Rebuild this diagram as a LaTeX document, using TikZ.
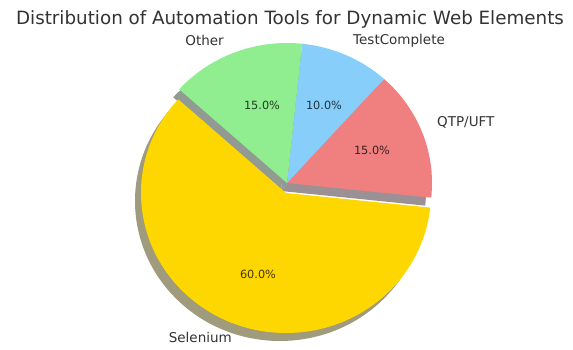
\documentclass[tikz,border=0pt]{standalone}
\usepackage{fontspec}
\setmainfont{DejaVu Sans}
\definecolor{selc}{RGB}{255,215,0}
\definecolor{qtpc}{RGB}{240,128,128}
\definecolor{tcc}{RGB}{135,206,250}
\definecolor{othc}{RGB}{144,238,144}
\definecolor{selsh}{RGB}{160,155,125}
\definecolor{qtpsh}{RGB}{155,145,148}
\definecolor{tcsh}{RGB}{145,152,160}
\definecolor{othsh}{RGB}{145,155,145}
\definecolor{txt}{RGB}{51,51,51}
\tikzset{
  lbl/.style={inner sep=0pt, text=txt, font=\fontsize{13.5}{15}\selectfont},
  pct/.style={inner sep=0pt, text=black, text opacity=0.75, font=\fontsize{11.3}{13}\selectfont, anchor=mid},
  ttl/.style={inner sep=0pt, text=txt, font=\fontsize{18.3}{21}\selectfont, anchor=base}
}
\newcommand{\wedgepath}[3]{(#1) -- ++(#2:145 and 140) arc[start angle=#2, end angle=#3, x radius=145, y radius=140] -- cycle}
\begin{document}
\begin{tikzpicture}[x=1pt,y=1pt]
\useasboundingbox[fill=white] (0,0) rectangle (573,350);
\coordinate (C) at (287,167);
\coordinate (S) at (286,157);
\coordinate (Csh) at ([shift={(-6,-8)}]C);
\coordinate (Ssh) at ([shift={(-6,-8)}]S);
% shadows
\fill[selsh] \wedgepath{Ssh}{138}{354};
\fill[qtpsh] \wedgepath{Csh}{354}{408};
\fill[tcsh] \wedgepath{Csh}{48}{84};
\fill[othsh] \wedgepath{Csh}{84}{138};
% wedges
\fill[selc] \wedgepath{S}{138}{354};
\fill[qtpc] \wedgepath{C}{354}{408};
\fill[tcc] \wedgepath{C}{48}{84};
\fill[othc] \wedgepath{C}{84}{138};
% texts
\node[ttl] (title) at (290,325) {Distribution of Automation Tools for Dynamic Web Elements};
\node[lbl, anchor=mid east] (lo) at (224,307) {Other};
\node[lbl, anchor=mid west] (lt) at (353,308) {TestComplete};
\node[lbl, anchor=mid west] (lq) at (437,226) {QTP/UFT};
\node[lbl, anchor=mid east] (ls) at (232,10) {Selenium};
\node[pct] (po) at (262,243) {15.0\%};
\node[pct] (pt) at (324,243) {10.0\%};
\node[pct] (pq) at (372,198) {15.0\%};
\node[pct] (ps) at (258,74) {60.0\%};
\end{tikzpicture}
\end{document}
